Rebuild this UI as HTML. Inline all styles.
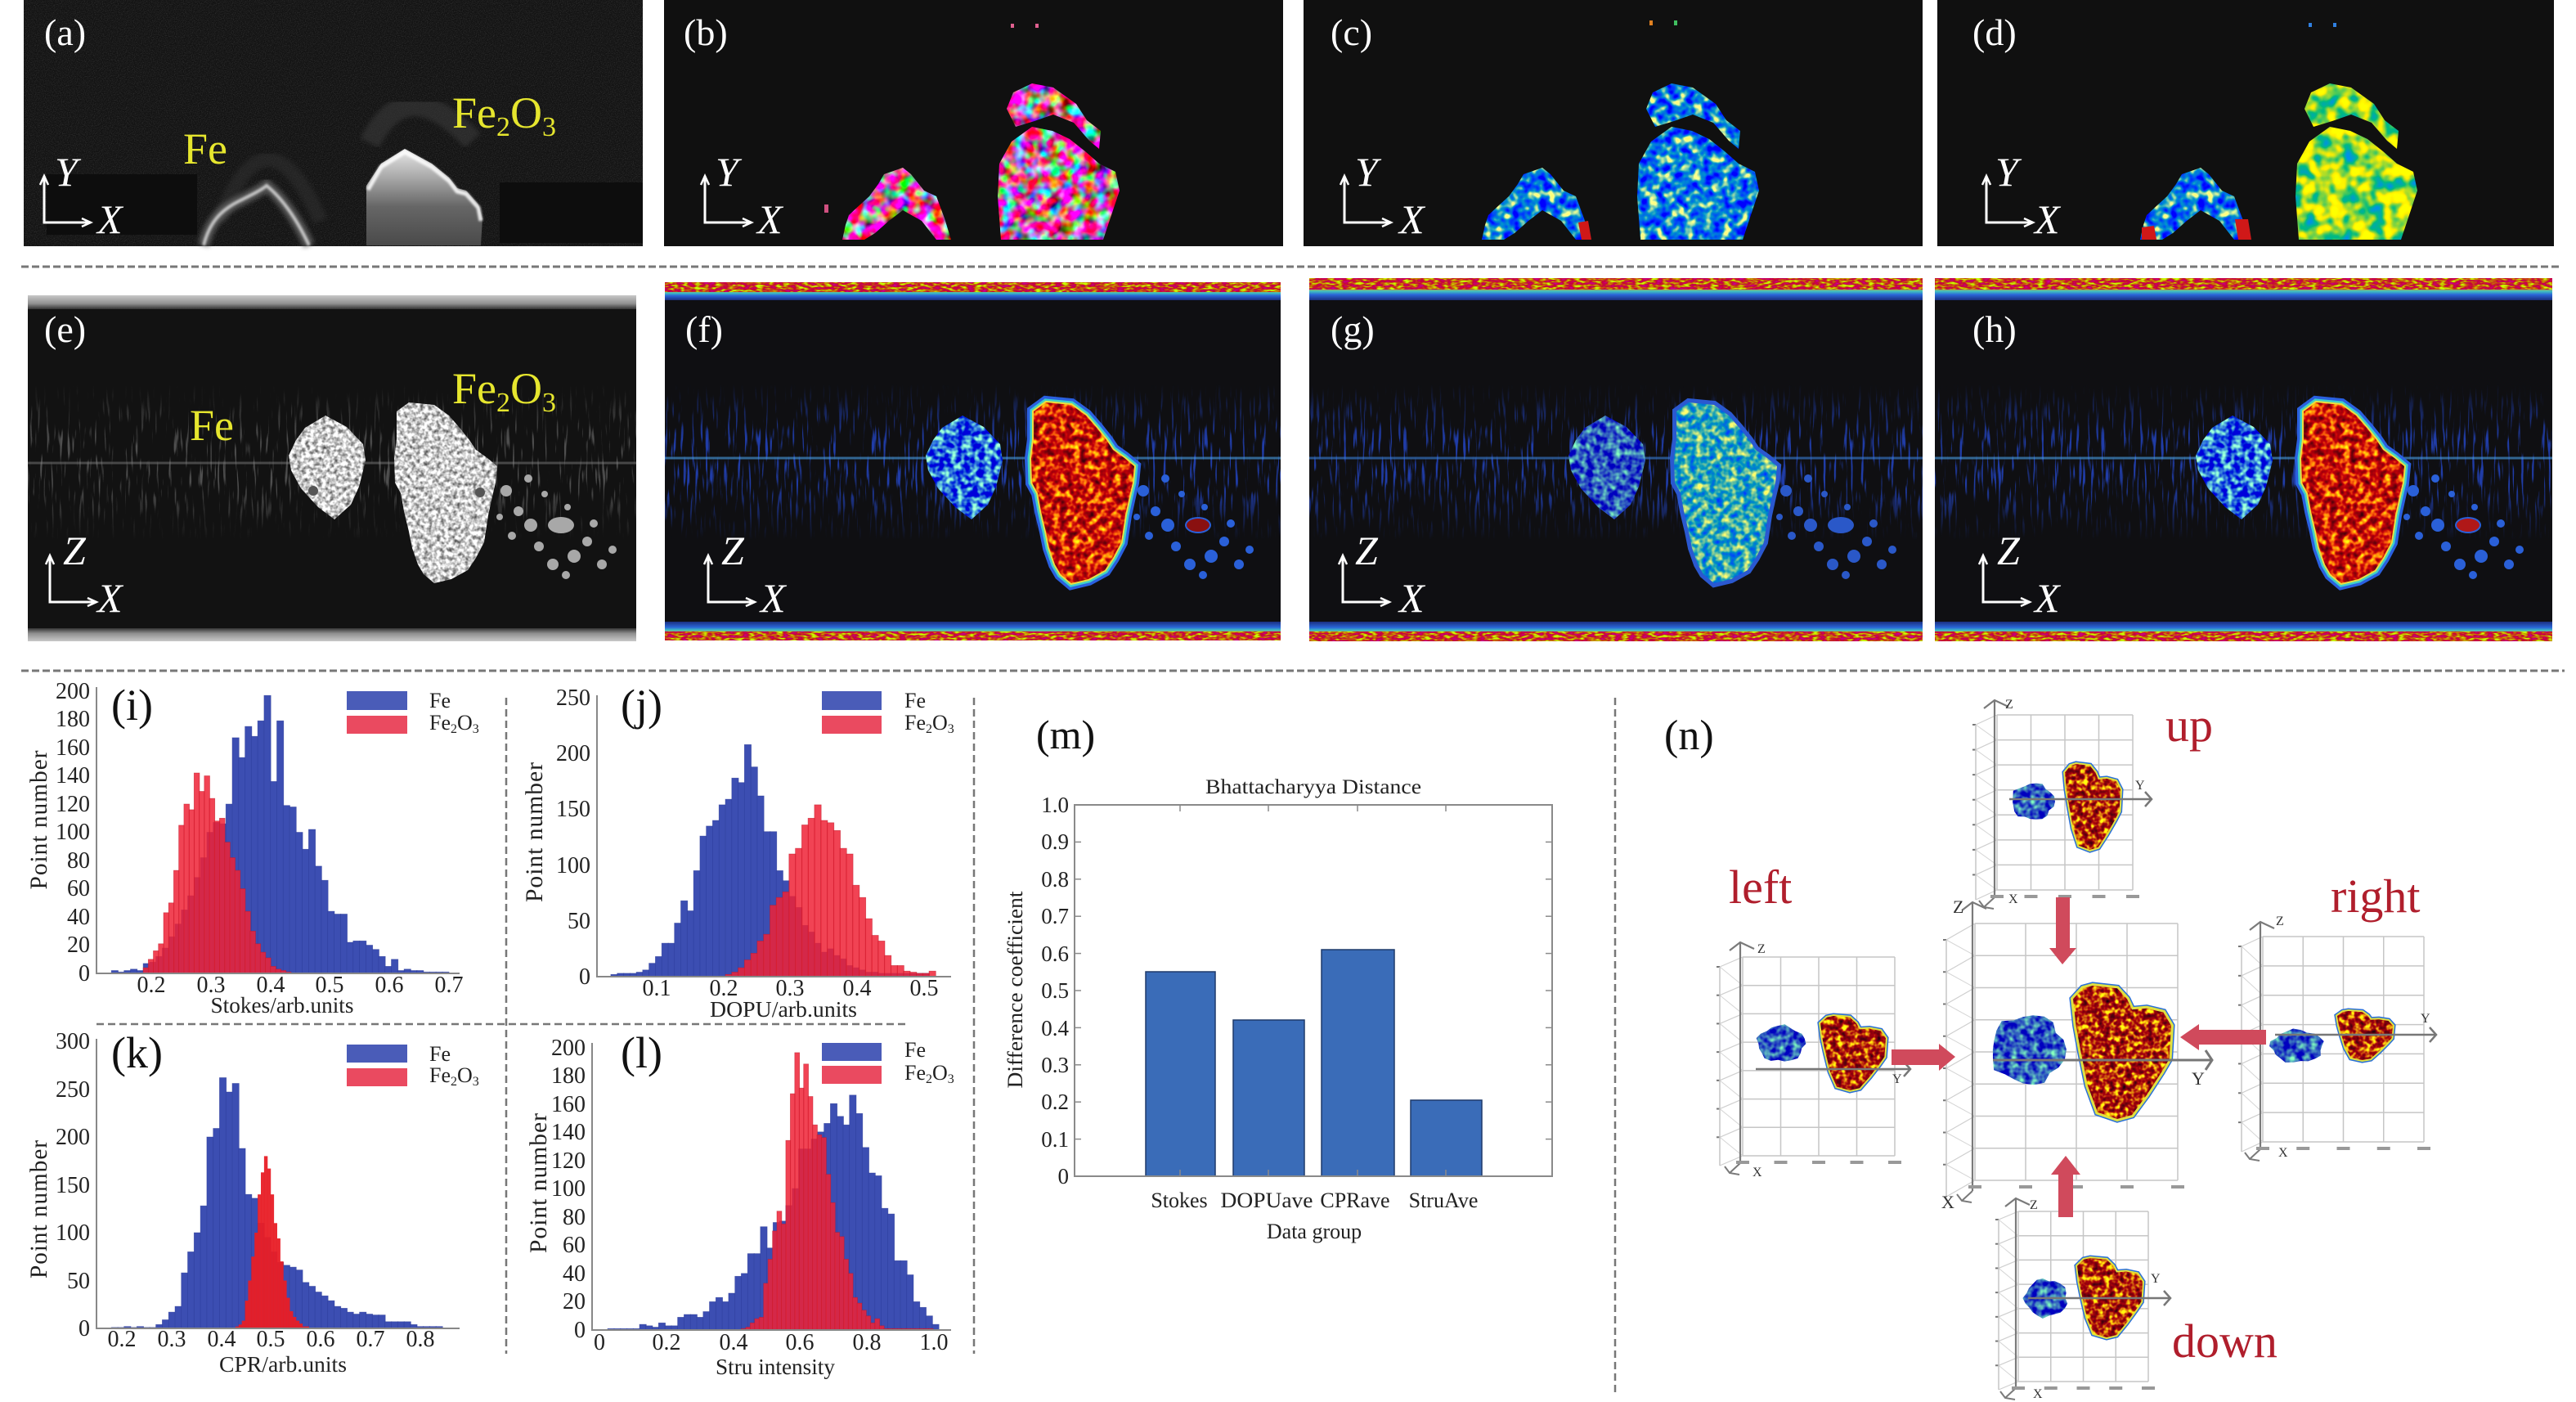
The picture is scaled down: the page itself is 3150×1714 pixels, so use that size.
<!DOCTYPE html>
<html><head><meta charset="utf-8"><style>
html,body{margin:0;padding:0;background:#fff;}
svg{display:block;}
text{font-family:"Liberation Serif","Times New Roman",serif;}
</style></head><body>
<svg id="s" xmlns="http://www.w3.org/2000/svg" xmlns:xlink="http://www.w3.org/1999/xlink" width="3150" height="1714" viewBox="0 0 3150 1714">
<defs>
<filter id="grain" x="0" y="0" width="1" height="1" color-interpolation-filters="sRGB"><feTurbulence type="fractalNoise" baseFrequency="0.9" numOctaves="1" seed="1"/><feColorMatrix type="matrix" values="0 0 0 0 1 0 0 0 0 1 0 0 0 0 1 0.6 0 0 0 -0.25"/></filter>
<filter id="blur3" color-interpolation-filters="sRGB"><feGaussianBlur stdDeviation="3"/></filter>
<filter id="blur1" color-interpolation-filters="sRGB"><feGaussianBlur stdDeviation="1.2"/></filter>
<filter id="mPink" x="-5%" y="-5%" width="110%" height="110%" color-interpolation-filters="sRGB"><feTurbulence type="fractalNoise" baseFrequency="0.07" numOctaves="2" seed="2" result="n"/><feColorMatrix in="n" type="matrix" values="3 0 0 0 -0.72  -2.6 2.6 0 0 0.38  0 0 2.5 0 -0.65  0 0 0 0 1" result="c"/><feComposite in="c" in2="SourceGraphic" operator="in"/></filter>
<filter id="mCyan" x="-5%" y="-5%" width="110%" height="110%" color-interpolation-filters="sRGB"><feTurbulence type="fractalNoise" baseFrequency="0.09" numOctaves="2" seed="4" result="n"/><feColorMatrix in="n" type="matrix" values="0 5 0 0 -2.7  0 2.2 0 0 -0.6  0 -1.2 0 0 1.45  0 0 0 0 1" result="c"/><feComposite in="c" in2="SourceGraphic" operator="in"/></filter>
<filter id="mYG" x="-5%" y="-5%" width="110%" height="110%" color-interpolation-filters="sRGB"><feTurbulence type="fractalNoise" baseFrequency="0.06" numOctaves="2" seed="6" result="n"/><feColorMatrix in="n" type="matrix" values="0 4 0 0 -1.4  0 0.8 0 0 0.45  0 -2 0 0 1.2  0 0 0 0 1" result="c"/><feComposite in="c" in2="SourceGraphic" operator="in"/></filter>
<filter id="mRed" x="-5%" y="-5%" width="110%" height="110%" color-interpolation-filters="sRGB"><feTurbulence type="fractalNoise" baseFrequency="0.12" numOctaves="2" seed="8" result="n"/><feColorMatrix in="n" type="matrix" values="0 1.6 0 0 0.0  0 3 0 0 -1.45  0 0 0 0 0.04  0 0 0 0 1" result="c"/><feComposite in="c" in2="SourceGraphic" operator="in"/></filter>
<filter id="mRed3" x="-5%" y="-5%" width="110%" height="110%" color-interpolation-filters="sRGB"><feTurbulence type="fractalNoise" baseFrequency="0.15" numOctaves="2" seed="9" result="n"/><feColorMatrix in="n" type="matrix" values="0 1.5 0 0 -0.05  0 3.5 0 0 -1.65  0 0 0 0 0.05  0 0 0 0 1" result="c"/><feComposite in="c" in2="SourceGraphic" operator="in"/></filter>
<filter id="mBlueF" x="-5%" y="-5%" width="110%" height="110%" color-interpolation-filters="sRGB"><feTurbulence type="fractalNoise" baseFrequency="0.12" numOctaves="2" seed="3" result="n"/><feColorMatrix in="n" type="matrix" values="0 2 0 0 -0.85  0 3 0 0 -1.1  0 0 0 0 0.86  0 0 0 0 1" result="c"/><feComposite in="c" in2="SourceGraphic" operator="in"/></filter>
<filter id="mBlueD" x="-5%" y="-5%" width="110%" height="110%" color-interpolation-filters="sRGB"><feTurbulence type="fractalNoise" baseFrequency="0.12" numOctaves="2" seed="5" result="n"/><feColorMatrix in="n" type="matrix" values="0 1 0 0 -0.32  0 2 0 0 -0.65  0 0 0 0 0.75  0 0 0 0 1" result="c"/><feComposite in="c" in2="SourceGraphic" operator="in"/></filter>
<filter id="mCyanG" x="-5%" y="-5%" width="110%" height="110%" color-interpolation-filters="sRGB"><feTurbulence type="fractalNoise" baseFrequency="0.12" numOctaves="2" seed="11" result="n"/><feColorMatrix in="n" type="matrix" values="0 3 0 0 -1.35  0 1.2 0 0 0.05  0 -0.9 0 0 1.15  0 0 0 0 1" result="c"/><feComposite in="c" in2="SourceGraphic" operator="in"/></filter>
<filter id="mGray" x="-5%" y="-5%" width="110%" height="110%" color-interpolation-filters="sRGB"><feTurbulence type="fractalNoise" baseFrequency="0.2" numOctaves="2" seed="12" result="n"/><feColorMatrix in="n" type="matrix" values="0 1.4 0 0 0.1  0 1.4 0 0 0.1  0 1.4 0 0 0.1  0 0 0 0 1" result="c"/><feComposite in="c" in2="SourceGraphic" operator="in"/></filter>
<filter id="mBand" x="0" y="0" width="1" height="1" color-interpolation-filters="sRGB"><feTurbulence type="fractalNoise" baseFrequency="0.12 0.35" numOctaves="2" seed="13" result="n"/><feColorMatrix in="n" type="matrix" values="0 0 0 0 0.78  0 3.2 0 0 -1.35  0 -1.5 0 0 0.85  0 0 0 0 1" result="c"/><feComposite in="c" in2="SourceGraphic" operator="in"/></filter>
<filter id="streakB" x="0" y="0" width="1" height="1" color-interpolation-filters="sRGB"><feTurbulence type="fractalNoise" baseFrequency="0.3 0.025" numOctaves="2" seed="7"/><feColorMatrix type="matrix" values="0 0 0 0 0.15 0 0 0 0 0.3 0 0 0 0 0.85 8 0 0 0 -4.6"/></filter>
<filter id="streakG" x="0" y="0" width="1" height="1" color-interpolation-filters="sRGB"><feTurbulence type="fractalNoise" baseFrequency="0.3 0.025" numOctaves="2" seed="7"/><feColorMatrix type="matrix" values="0 0 0 0 0.6 0 0 0 0 0.6 0 0 0 0 0.6 8 0 0 0 -4.8"/></filter>
<linearGradient id="fadeG" x1="0" y1="0" x2="0" y2="1"><stop offset="0" stop-color="#000"/><stop offset="0.35" stop-color="#fff"/><stop offset="0.65" stop-color="#fff"/><stop offset="1" stop-color="#000"/></linearGradient>
<mask id="fade" maskContentUnits="objectBoundingBox"><rect width="1" height="1" fill="url(#fadeG)"/></mask>
<linearGradient id="domeG" x1="0" y1="182" x2="0" y2="300" gradientUnits="userSpaceOnUse"><stop offset="0" stop-color="#e8e8e8"/><stop offset="0.3" stop-color="#a8a8a8"/><stop offset="0.6" stop-color="#666"/><stop offset="1" stop-color="#4a4a4a"/></linearGradient>
<linearGradient id="bandT" x1="0" y1="0" x2="0" y2="1"><stop offset="0" stop-color="#b02818"/><stop offset="0.45" stop-color="#d89a20"/><stop offset="0.6" stop-color="#40c0c0"/><stop offset="0.75" stop-color="#2a66d8"/><stop offset="1" stop-color="#1a2f80"/></linearGradient>
<linearGradient id="bandB" x1="0" y1="1" x2="0" y2="0"><stop offset="0" stop-color="#b02818"/><stop offset="0.4" stop-color="#d89a20"/><stop offset="0.55" stop-color="#40c0c0"/><stop offset="0.7" stop-color="#2a66d8"/><stop offset="1" stop-color="#1a2f80"/></linearGradient>
<linearGradient id="bandGT" x1="0" y1="0" x2="0" y2="1"><stop offset="0" stop-color="#c8c8c8"/><stop offset="0.6" stop-color="#909090"/><stop offset="1" stop-color="#333"/></linearGradient>
<linearGradient id="bandGB" x1="0" y1="1" x2="0" y2="0"><stop offset="0" stop-color="#c8c8c8"/><stop offset="0.6" stop-color="#909090"/><stop offset="1" stop-color="#333"/></linearGradient>

<path id="arch" d="M218 293 L222 275 L226 263 L240 250 L251 240 L262 225 L269 213 L292 205 L302 213 L318 233 L333 240 L343 267 L351 293 L333 293 L315 270 L292 257 L275 270 L258 285 L245 293 Z"/>
<path id="main" d="M412 293 L408 240 L410 200 L425 173 L450 155 L475 160 L496 170 L515 185 L532 200 L552 210 L557 233 L547 263 L537 293 Z"/>
<path id="cap" d="M419 133 L427 113 L450 102 L476 107 L504 127 L517 147 L534 160 L532 182 L520 172 L501 150 L476 140 L453 148 L430 155 Z"/>
<path id="feb" d="M364 508 L390 522 L410 543 L413 563 L405 595 L395 617 L375 635 L355 620 L334 597 L322 575 L319 557 L328 538 L339 523 Z"/>
<path id="fe2b" d="M451 503 L466 492 L497 495 L515 508 L528 523 L540 538 L548 550 L562 560 L574 570 L572 590 L568 607 L563 630 L558 663 L548 682 L538 697 L518 708 L497 713 L484 702 L477 690 L470 670 L466 650 L460 625 L456 603 L449 590 L448 560 L451 537 Z"/>
<g id="parts"><circle cx="585" cy="600" r="7"/><circle cx="600" cy="625" r="6"/><circle cx="615" cy="642" r="8"/><circle cx="592" cy="655" r="5"/><circle cx="625" cy="668" r="6"/><circle cx="642" cy="690" r="7"/><circle cx="658" cy="703" r="5"/><circle cx="668" cy="680" r="8"/><circle cx="684" cy="662" r="6"/><circle cx="702" cy="690" r="6"/><circle cx="612" cy="585" r="5"/><circle cx="632" cy="604" r="4"/><circle cx="692" cy="640" r="5"/><circle cx="577" cy="632" r="4"/><circle cx="715" cy="672" r="5"/><circle cx="660" cy="620" r="4"/><ellipse cx="652" cy="642" rx="16" ry="10"/></g>
<g id="axL"><path d="M0 0 V57 H57" stroke="#fff" stroke-width="3" fill="none"/><path d="M-5 11 L0 0 L5 11" stroke="#fff" stroke-width="2.5" fill="none"/><path d="M46 52 L57 57 L46 62" stroke="#fff" stroke-width="2.5" fill="none"/></g>
</defs>

<rect width="3150" height="1714" fill="#fff"/>

<!-- (a) -->
<rect x="29" y="0" width="757" height="301" fill="#131313"/>
<rect x="29" y="0" width="757" height="301" filter="url(#grain)" opacity="0.5"/>
<rect x="57" y="213" width="184" height="74" fill="#0d0d0d"/>
<rect x="611" y="223" width="175" height="74" fill="#0d0d0d"/>
<path d="M268 270 Q326 120 392 270" stroke="#333" stroke-width="18" fill="none" filter="url(#blur3)" opacity="0.5"/>
<path d="M452 175 Q497 85 578 172" stroke="#3a3a3a" stroke-width="26" fill="none" filter="url(#blur3)" opacity="0.6"/>
<path d="M249 300 C256 272 270 257 292 246 C308 238 320 232 326 227 C342 240 360 262 378 300" stroke="#666" stroke-width="14" fill="none" filter="url(#blur3)" opacity="0.8"/>
<path d="M249 300 C256 272 270 257 292 246 C308 238 320 232 326 227 C342 240 360 262 378 300" stroke="#d8d8d8" stroke-width="4" fill="none" filter="url(#blur1)" opacity="0.85"/>
<path d="M448 300 L448 227 L466 200 L495 182 L528 200 L549 217 L559 230 L570 233 L585 250 L590 267 L588 300 Z" fill="url(#domeG)"/>
<path d="M450 232 L466 204 L495 186 L528 204 L549 221 L559 234 L570 237 L585 254 L588 270" stroke="#fff" stroke-width="5" fill="none" filter="url(#blur1)" opacity="0.85"/>
<text x="54" y="55" font-size="46" fill="#fff">(a)</text>
<text x="224" y="200" font-size="54" fill="#e6e62e">Fe</text>
<text x="553" y="156" font-size="54" fill="#e6e62e">Fe<tspan font-size="34" dy="10">2</tspan><tspan dy="-10">O</tspan><tspan font-size="34" dy="10">3</tspan></text>
<use href="#axL" xlink:href="#axL" transform="translate(54,215)"/>
<text x="67" y="227" font-size="50" font-style="italic" fill="#fff">Y</text>
<text x="119" y="285" font-size="50" font-style="italic" fill="#fff">X</text>

<!-- (b) -->
<rect x="812" y="0" width="757" height="301" fill="#101010"/>
<g transform="translate(812,0)">
<use href="#arch" xlink:href="#arch" fill="#fff" filter="url(#mPink)"/>
<use href="#main" xlink:href="#main" fill="#fff" filter="url(#mPink)"/>
<use href="#cap" xlink:href="#cap" fill="#fff" filter="url(#mPink)"/>
<rect x="196" y="250" width="5" height="10" fill="#d05080"/>
<rect x="424" y="29" width="4" height="5" fill="#e06090"/><rect x="454" y="29" width="4" height="5" fill="#e06090"/>
</g>
<text x="836" y="55" font-size="46" fill="#fff">(b)</text>
<use href="#axL" xlink:href="#axL" transform="translate(862,215)"/>
<text x="875" y="227" font-size="50" font-style="italic" fill="#fff">Y</text>
<text x="926" y="285" font-size="50" font-style="italic" fill="#fff">X</text>

<!-- (c) -->
<rect x="1594" y="0" width="757" height="301" fill="#101010"/>
<g transform="translate(1594,0)">
<use href="#arch" xlink:href="#arch" fill="#fff" filter="url(#mCyan)"/>
<use href="#main" xlink:href="#main" fill="#fff" filter="url(#mCyan)"/>
<use href="#cap" xlink:href="#cap" fill="#fff" filter="url(#mCyan)"/>
<path d="M336 272 L348 270 L352 293 L340 293 Z" fill="#d01818"/>
<rect x="423" y="25" width="4" height="6" fill="#e08020"/><rect x="453" y="25" width="4" height="6" fill="#40c060"/>
</g>
<text x="1627" y="55" font-size="46" fill="#fff">(c)</text>
<use href="#axL" xlink:href="#axL" transform="translate(1644,215)"/>
<text x="1657" y="227" font-size="50" font-style="italic" fill="#fff">Y</text>
<text x="1711" y="285" font-size="50" font-style="italic" fill="#fff">X</text>

<!-- (d) -->
<rect x="2369" y="0" width="754" height="301" fill="#101010"/>
<g transform="translate(2399,0)">
<use href="#arch" xlink:href="#arch" fill="#fff" filter="url(#mCyan)"/>
<use href="#main" xlink:href="#main" fill="#fff" filter="url(#mYG)"/>
<use href="#cap" xlink:href="#cap" fill="#fff" filter="url(#mYG)"/>
<path d="M220 278 L235 276 L238 293 L220 293 Z" fill="#d01818"/>
<path d="M334 268 L350 268 L354 293 L338 293 Z" fill="#d01818"/>
<rect x="424" y="28" width="4" height="5" fill="#3080e0"/><rect x="454" y="28" width="4" height="5" fill="#3080e0"/>
</g>
<text x="2412" y="55" font-size="46" fill="#fff">(d)</text>
<use href="#axL" xlink:href="#axL" transform="translate(2429,215)"/>
<text x="2440" y="227" font-size="50" font-style="italic" fill="#fff">Y</text>
<text x="2488" y="285" font-size="50" font-style="italic" fill="#fff">X</text>

<line x1="26" y1="326" x2="3130" y2="326" stroke="#777" stroke-width="3" stroke-dasharray="9 4"/>
<line x1="26" y1="820" x2="3136" y2="820" stroke="#777" stroke-width="3" stroke-dasharray="9 4"/>

<!-- (e) -->
<rect x="34" y="361" width="744" height="423" fill="#121212"/>
<rect x="34" y="361" width="744" height="17" fill="url(#bandGT)"/>
<rect x="34" y="768" width="744" height="16" fill="url(#bandGB)"/>
<rect x="34" y="470" width="744" height="190" filter="url(#streakG)" mask="url(#fade)" opacity="0.45"/>
<line x1="34" y1="566" x2="778" y2="566" stroke="#888" stroke-width="3" opacity="0.45"/>
<g transform="translate(34,0)">
<use href="#feb" xlink:href="#feb" fill="#fff" filter="url(#mGray)"/>
<use href="#fe2b" xlink:href="#fe2b" fill="#fff" filter="url(#mGray)"/>
<use href="#parts" xlink:href="#parts" fill="#a8a8a8"/>
<circle cx="349" cy="600" r="6" fill="#555"/><circle cx="553" cy="602" r="6" fill="#555"/>
</g>
<text x="54" y="418" font-size="46" fill="#fff">(e)</text>
<text x="232" y="538" font-size="54" fill="#e6e62e">Fe</text>
<text x="553" y="493" font-size="54" fill="#e6e62e">Fe<tspan font-size="34" dy="10">2</tspan><tspan dy="-10">O</tspan><tspan font-size="34" dy="10">3</tspan></text>
<use href="#axL" xlink:href="#axL" transform="translate(61,679)"/>
<text x="77" y="690" font-size="50" font-style="italic" fill="#fff">Z</text>
<text x="119" y="748" font-size="50" font-style="italic" fill="#fff">X</text>

<!-- (f) -->
<rect x="813" y="345" width="753" height="438" fill="#0f0f12"/>
<rect x="813" y="345" width="753" height="22" fill="url(#bandT)"/>
<rect x="813" y="345" width="753" height="12" fill="#fff" filter="url(#mBand)"/>
<rect x="813" y="760" width="753" height="23" fill="url(#bandB)"/>
<rect x="813" y="772" width="753" height="11" fill="#fff" filter="url(#mBand)"/>
<rect x="813" y="470" width="753" height="190" filter="url(#streakB)" mask="url(#fade)" opacity="0.75"/>
<line x1="813" y1="560" x2="1566" y2="560" stroke="#4aa0e8" stroke-width="3" opacity="0.6"/>
<g transform="translate(813,0)">
<use href="#parts" xlink:href="#parts" fill="#2a60d8"/>
<use href="#feb" xlink:href="#feb" fill="#fff" filter="url(#mBlueF)"/>
<use href="#fe2b" xlink:href="#fe2b" fill="none" stroke="#2a60e0" stroke-width="16"/>
<use href="#fe2b" xlink:href="#fe2b" fill="none" stroke="#40d0c8" stroke-width="9"/>
<use href="#fe2b" xlink:href="#fe2b" fill="none" stroke="#e8e040" stroke-width="4"/>
<use href="#fe2b" xlink:href="#fe2b" fill="#fff" filter="url(#mRed)"/>
<ellipse cx="652" cy="642" rx="14" ry="8" fill="#8a1010"/>
</g>
<text x="838" y="418" font-size="46" fill="#fff">(f)</text>
<use href="#axL" xlink:href="#axL" transform="translate(866,679)"/>
<text x="882" y="690" font-size="50" font-style="italic" fill="#fff">Z</text>
<text x="930" y="748" font-size="50" font-style="italic" fill="#fff">X</text>

<!-- (g) -->
<rect x="1601" y="340" width="750" height="444" fill="#0f0f12"/>
<rect x="1601" y="340" width="750" height="27" fill="url(#bandT)"/>
<rect x="1601" y="340" width="750" height="14" fill="#fff" filter="url(#mBand)"/>
<rect x="1601" y="760" width="750" height="24" fill="url(#bandB)"/>
<rect x="1601" y="772" width="750" height="12" fill="#fff" filter="url(#mBand)"/>
<rect x="1601" y="470" width="750" height="190" filter="url(#streakB)" mask="url(#fade)" opacity="0.75"/>
<line x1="1601" y1="560" x2="2351" y2="560" stroke="#3a80d8" stroke-width="3" opacity="0.6"/>
<g transform="translate(1599,0)">
<use href="#parts" xlink:href="#parts" fill="#2a58c8"/>
<use href="#feb" xlink:href="#feb" fill="#fff" filter="url(#mBlueD)"/>
<use href="#fe2b" xlink:href="#fe2b" fill="none" stroke="#2a58d0" stroke-width="10"/>
<use href="#fe2b" xlink:href="#fe2b" fill="#fff" filter="url(#mCyanG)"/>
</g>
<text x="1627" y="418" font-size="46" fill="#fff">(g)</text>
<use href="#axL" xlink:href="#axL" transform="translate(1642,679)"/>
<text x="1657" y="690" font-size="50" font-style="italic" fill="#fff">Z</text>
<text x="1711" y="748" font-size="50" font-style="italic" fill="#fff">X</text>

<!-- (h) -->
<rect x="2366" y="340" width="755" height="444" fill="#0f0f12"/>
<rect x="2366" y="340" width="755" height="27" fill="url(#bandT)"/>
<rect x="2366" y="340" width="755" height="14" fill="#fff" filter="url(#mBand)"/>
<rect x="2366" y="760" width="755" height="24" fill="url(#bandB)"/>
<rect x="2366" y="772" width="755" height="12" fill="#fff" filter="url(#mBand)"/>
<rect x="2366" y="470" width="755" height="190" filter="url(#streakB)" mask="url(#fade)" opacity="0.75"/>
<line x1="2366" y1="560" x2="3121" y2="560" stroke="#4aa0e8" stroke-width="3" opacity="0.6"/>
<g transform="translate(2366,0)">
<use href="#parts" xlink:href="#parts" fill="#2a60d8"/>
<use href="#feb" xlink:href="#feb" fill="#fff" filter="url(#mBlueF)"/>
<use href="#fe2b" xlink:href="#fe2b" fill="none" stroke="#2a60e0" stroke-width="16"/>
<use href="#fe2b" xlink:href="#fe2b" fill="none" stroke="#40d0c8" stroke-width="9"/>
<use href="#fe2b" xlink:href="#fe2b" fill="none" stroke="#e8e040" stroke-width="4"/>
<use href="#fe2b" xlink:href="#fe2b" fill="#fff" filter="url(#mRed)"/>
<ellipse cx="652" cy="642" rx="14" ry="8" fill="#b01818"/>
</g>
<text x="2412" y="418" font-size="46" fill="#fff">(h)</text>
<use href="#axL" xlink:href="#axL" transform="translate(2425,679)"/>
<text x="2442" y="690" font-size="50" font-style="italic" fill="#fff">Z</text>
<text x="2488" y="748" font-size="50" font-style="italic" fill="#fff">X</text>

<line x1="619" y1="853" x2="619" y2="1655" stroke="#777" stroke-width="2.5" stroke-dasharray="9 5"/>
<line x1="1191" y1="853" x2="1191" y2="1655" stroke="#777" stroke-width="2.5" stroke-dasharray="9 5"/>
<line x1="1975" y1="853" x2="1975" y2="1705" stroke="#777" stroke-width="2.5" stroke-dasharray="9 5"/>
<line x1="118" y1="1252" x2="1109" y2="1252" stroke="#777" stroke-width="2.5" stroke-dasharray="9 5"/>

<g id="hist"></g>

<g stroke="#888" stroke-width="2" fill="none">
<path d="M118 840 V1190 H562"/>
<path d="M730 850 V1194 H1163"/>
<path d="M118 1270 V1624 H562"/>
<path d="M724 1275 V1626 H1163"/>
</g>
<g font-size="28" fill="#222" text-anchor="end">
<text x="110" y="1199">0</text><text x="110" y="1164">20</text><text x="110" y="1130">40</text><text x="110" y="1095">60</text><text x="110" y="1061">80</text><text x="110" y="1026">100</text><text x="110" y="992">120</text><text x="110" y="957">140</text><text x="110" y="923">160</text><text x="110" y="888">180</text><text x="110" y="854">200</text>
<text x="722" y="1203">0</text><text x="722" y="1135">50</text><text x="722" y="1067">100</text><text x="722" y="998">150</text><text x="722" y="930">200</text><text x="722" y="862">250</text>
<text x="110" y="1633">0</text><text x="110" y="1575">50</text><text x="110" y="1516">100</text><text x="110" y="1458">150</text><text x="110" y="1399">200</text><text x="110" y="1341">250</text><text x="110" y="1282">300</text>
<text x="716" y="1635">0</text><text x="716" y="1600">20</text><text x="716" y="1566">40</text><text x="716" y="1531">60</text><text x="716" y="1497">80</text><text x="716" y="1462">100</text><text x="716" y="1428">120</text><text x="716" y="1393">140</text><text x="716" y="1359">160</text><text x="716" y="1324">180</text><text x="716" y="1290">200</text>
</g>
<g font-size="28" fill="#222" text-anchor="middle">
<text x="185" y="1213">0.2</text><text x="258" y="1213">0.3</text><text x="331" y="1213">0.4</text><text x="403" y="1213">0.5</text><text x="476" y="1213">0.6</text><text x="549" y="1213">0.7</text>
<text x="803" y="1217">0.1</text><text x="885" y="1217">0.2</text><text x="966" y="1217">0.3</text><text x="1048" y="1217">0.4</text><text x="1130" y="1217">0.5</text>
<text x="149" y="1646">0.2</text><text x="210" y="1646">0.3</text><text x="271" y="1646">0.4</text><text x="331" y="1646">0.5</text><text x="392" y="1646">0.6</text><text x="453" y="1646">0.7</text><text x="514" y="1646">0.8</text>
<text x="733" y="1650">0</text><text x="815" y="1650">0.2</text><text x="897" y="1650">0.4</text><text x="978" y="1650">0.6</text><text x="1060" y="1650">0.8</text><text x="1142" y="1650">1.0</text>
</g>
<g font-size="27" fill="#222" text-anchor="middle">
<text x="345" y="1238" textLength="175" lengthAdjust="spacingAndGlyphs">Stokes/arb.units</text>
<text x="958" y="1243" textLength="180" lengthAdjust="spacingAndGlyphs">DOPU/arb.units</text>
<text x="346" y="1677" textLength="156" lengthAdjust="spacingAndGlyphs">CPR/arb.units</text>
<text x="948" y="1680" textLength="146" lengthAdjust="spacingAndGlyphs">Stru intensity</text>
</g>
<g font-size="30" fill="#222" text-anchor="middle" letter-spacing="1">
<text transform="translate(57,1002) rotate(-90)" textLength="171" lengthAdjust="spacingAndGlyphs">Point number</text>
<text transform="translate(663,1017) rotate(-90)" textLength="172" lengthAdjust="spacingAndGlyphs">Point number</text>
<text transform="translate(57,1478) rotate(-90)" textLength="170" lengthAdjust="spacingAndGlyphs">Point number</text>
<text transform="translate(668,1446) rotate(-90)" textLength="172" lengthAdjust="spacingAndGlyphs">Point number</text>
</g>
<g font-size="54" fill="#111">
<text x="136" y="880">(i)</text>
<text x="759" y="880">(j)</text>
<text x="136" y="1305">(k)</text>
<text x="759" y="1305">(l)</text>
</g>
<g>
<rect x="424" y="845" width="74" height="23" fill="#4a5cb8"/><rect x="424" y="875" width="74" height="22" fill="#ea4a60"/>
<rect x="1005" y="845" width="73" height="23" fill="#4a5cb8"/><rect x="1005" y="875" width="73" height="22" fill="#ea4a60"/>
<rect x="424" y="1277" width="74" height="22" fill="#4a5cb8"/><rect x="424" y="1306" width="74" height="22" fill="#ea4a60"/>
<rect x="1005" y="1275" width="73" height="22" fill="#4a5cb8"/><rect x="1005" y="1303" width="73" height="22" fill="#ea4a60"/>
</g>
<g font-size="26" fill="#222">
<text x="525" y="865">Fe</text><text x="525" y="892">Fe<tspan font-size="16" dy="4">2</tspan><tspan dy="-4">O</tspan><tspan font-size="16" dy="4">3</tspan></text>
<text x="1106" y="865">Fe</text><text x="1106" y="892">Fe<tspan font-size="16" dy="4">2</tspan><tspan dy="-4">O</tspan><tspan font-size="16" dy="4">3</tspan></text>
<text x="525" y="1297">Fe</text><text x="525" y="1323">Fe<tspan font-size="16" dy="4">2</tspan><tspan dy="-4">O</tspan><tspan font-size="16" dy="4">3</tspan></text>
<text x="1106" y="1292">Fe</text><text x="1106" y="1320">Fe<tspan font-size="16" dy="4">2</tspan><tspan dy="-4">O</tspan><tspan font-size="16" dy="4">3</tspan></text>
</g>

<!-- (m) -->
<text x="1267" y="915" font-size="50" fill="#111">(m)</text>
<text x="1606" y="970" font-size="25" fill="#222" text-anchor="middle" textLength="264" lengthAdjust="spacingAndGlyphs">Bhattacharyya Distance</text>
<g fill="#3a6cb8" stroke="#1e3a6a" stroke-width="1.5">
<rect x="1401" y="1188" width="85" height="250"/>
<rect x="1508" y="1247" width="87" height="191"/>
<rect x="1616" y="1161" width="89" height="277"/>
<rect x="1725" y="1345" width="87" height="93"/>
</g>
<rect x="1314" y="984" width="584" height="454" fill="none" stroke="#8a8a8a" stroke-width="2"/>
<g stroke="#8a8a8a" stroke-width="1.5" id="mticks"></g>
<g font-size="27" fill="#222" text-anchor="end">
<text x="1307" y="1447">0</text><text x="1307" y="1402">0.1</text><text x="1307" y="1356">0.2</text><text x="1307" y="1311">0.3</text><text x="1307" y="1266">0.4</text><text x="1307" y="1220">0.5</text><text x="1307" y="1175">0.6</text><text x="1307" y="1129">0.7</text><text x="1307" y="1084">0.8</text><text x="1307" y="1038">0.9</text><text x="1307" y="993">1.0</text>
</g>
<g font-size="26" fill="#222" text-anchor="middle">
<text x="1442" y="1476">Stokes</text>
<text x="1549" y="1476" textLength="113" lengthAdjust="spacingAndGlyphs">DOPUave</text>
<text x="1657" y="1476">CPRave</text>
<text x="1765" y="1476">StruAve</text>
<text x="1607" y="1514">Data group</text>
<text transform="translate(1250,1210) rotate(-90)" textLength="241" lengthAdjust="spacingAndGlyphs">Difference coefficient</text>
</g>

<!-- (n) -->
<text x="2035" y="916" font-size="52" fill="#111">(n)</text>
<g id="n3d"></g>
<g fill="#b01e2c" font-size="58">
<text x="2648" y="906">up</text>
<text x="2114" y="1104">left</text>
<text x="2850" y="1115">right</text>
<text x="2656" y="1659">down</text>
</g>
<g fill="#333" font-size="22">
<text x="2388" y="1116">Z</text><text x="2680" y="1326">Y</text><text x="2374" y="1477">X</text>
</g>
<g fill="#333" font-size="16">
<text x="2452" y="866">Z</text><text x="2611" y="965">Y</text><text x="2456" y="1104">X</text>
<text x="2149" y="1165">Z</text><text x="2314" y="1324">Y</text><text x="2143" y="1438">X</text>
<text x="2783" y="1131">Z</text><text x="2960" y="1250">Y</text><text x="2786" y="1414">X</text>
<text x="2482" y="1478">Z</text><text x="2630" y="1568">Y</text><text x="2486" y="1709">X</text>
</g>
<g fill="#d04a5c" id="arrows">
<rect x="2514" y="1097" width="17" height="64"/><polygon points="2506,1159 2539,1159 2522,1179"/>
<rect x="2313" y="1283" width="60" height="19"/><polygon points="2371,1276 2371,1309 2391,1292"/>
<rect x="2687" y="1259" width="84" height="18"/><polygon points="2689,1252 2689,1284 2666,1268"/>
<rect x="2517" y="1434" width="18" height="54"/><polygon points="2508,1436 2544,1436 2526,1413"/>
</g>
</svg>
<script>
(function(){
const NS='http://www.w3.org/2000/svg';
function el(tag,a,p){const e=document.createElementNS(NS,tag);for(const k in a)e.setAttribute(k,a[k]);p.appendChild(e);return e;}
const H=document.getElementById('hist');
const fx=1220/1568;
function bars(start,w,counts,axisY,ppu,fill,op,stroke){
  counts.forEach((c,i)=>{if(c<=0)return;const x=(start+i*w)*fx;
   el('rect',{x:x.toFixed(1),y:(axisY-c*ppu).toFixed(1),width:(w*fx+0.5).toFixed(1),height:(c*ppu).toFixed(1),fill:fill,'fill-opacity':op,stroke:stroke,'stroke-width':0.7,'stroke-opacity':0.6},H);});
}
const B='#3c4eb2',R='#ee2236';
bars(175,10,[2,1,2,3,2,7,8,12,18,26,35,45,55,68,82,100,107,106,120,167,153,175,168,179,197,136,179,119,118,100,88,102,76,66,44,42,42,22,23,23,20,17,12,5,10,2,3,2,2,1,1,1,1],1190,1.725,B,1,'#2a3a96');
bars(225,8,[4,10,16,21,43,50,73,105,120,116,142,129,140,124,108,110,93,82,73,60,44,30,21,15,11,5,3,2,1],1190,1.725,R,0.85,'#c01828');
bars(960,10,[2,3,3,3,4,6,12,18,30,30,48,68,59,95,126,135,140,154,159,178,174,208,188,162,130,130,95,86,72,62,46,40,30,22,25,19,16,10,8,6,4,4,3,3,3,3,3,3,3,3],1194,1.364,B,1,'#2a3a96');
bars(1140,10,[2,4,8,15,21,32,38,64,71,76,110,115,136,142,154,140,138,131,115,110,82,71,52,37,32,19,10,10,5,4,3,3,5],1194,1.364,R,0.85,'#c01828');
bars(175,10,[1,1,2,1,2,1,1,4,9,17,23,58,80,100,128,200,209,262,247,256,188,140,136,110,95,80,69,66,64,61,48,44,38,34,29,23,21,17,15,17,15,14,14,7,7,7,7,4,2,2,2,2],1624,1.17,B,1,'#2a3a96');
bars(370,5,[2,4,8,29,50,75,100,140,163,180,167,140,110,94,70,50,32,18,12,8,5,2,2],1624,1.17,'#e81e26',0.95,'none');
bars(955,10,[1,1,1,1,1,4,3,2,5,3,3,9,11,11,9,13,20,23,20,26,38,40,54,54,73,58,76,77,88,100,128,128,135,140,146,160,151,145,166,153,129,111,109,86,82,49,49,39,20,16,10,4],1626,1.73,B,1,'#2a3a96');
bars(1165,7,[1,2,5,8,9,33,50,70,84,75,134,167,196,171,188,165,145,138,136,110,90,69,66,50,40,23,19,14,10,5,8,3,1,1,1,1,1,1,1,1,1,1,1],1626,1.73,R,0.85,'#c01828');

const MT=document.getElementById('mticks');
for(let k=1;k<10;k++){const y=1438-k*45.4;el('line',{x1:1314,y1:y,x2:1322,y2:y},MT);el('line',{x1:1890,y1:y,x2:1898,y2:y},MT);}
[1443,1551,1660,1768].forEach(x=>{el('line',{x1:x,y1:984,x2:x,y2:992},MT);el('line',{x1:x,y1:1430,x2:x,y2:1438},MT);});

const N=document.getElementById('n3d');
const redN=[[0,0.1],[0.1,0.02],[0.2,0],[0.45,0.02],[0.55,0.1],[0.6,0.18],[0.75,0.17],[0.92,0.2],[1,0.3],[0.98,0.55],[0.9,0.65],[0.75,0.82],[0.6,0.97],[0.45,1],[0.25,0.95],[0.15,0.75],[0.08,0.5],[0.03,0.3]];
function blobPath(cx,cy,rx,ry,seed){let s='';const n=22;for(let i=0;i<n;i++){const a=i/n*Math.PI*2;const r=1+0.07*Math.sin(a*5+seed)+0.04*Math.cos(a*9+seed*2);s+=(i?'L':'M')+(cx+rx*r*Math.cos(a)).toFixed(1)+' '+(cy+ry*r*Math.sin(a)).toFixed(1);}return s+'Z';}
function plot(p){
 const g=el('g',{},N);const {bx,by,bw,bh,dx,dy}=p;const nr=p.rows||7;
 for(let i=0;i<=4;i++){const x=bx+bw*i/4;el('line',{x1:x,y1:by,x2:x,y2:by+bh,stroke:'#c6c6c6','stroke-width':1.5},g);}
 for(let j=0;j<=nr;j++){const y=by+bh*j/nr;el('line',{x1:bx,y1:y,x2:bx+bw,y2:y,stroke:'#c6c6c6','stroke-width':1.5},g);}
 for(let j=0;j<=nr;j++){const y=by+bh*j/nr;el('line',{x1:bx,y1:y,x2:bx-dx,y2:y+dy,stroke:'#cfcfcf','stroke-width':1.2},g);
   if(j<nr){el('line',{x1:bx-dx,y1:y+dy,x2:bx,y2:y+bh/nr,stroke:'#d6d6d6','stroke-width':1},g);
     el('line',{x1:bx-dx,y1:y+dy,x2:bx-dx-4,y2:y+dy,stroke:'#777','stroke-width':2},g);}}
 el('line',{x1:bx-dx,y1:by+dy,x2:bx-dx,y2:by+bh+dy,stroke:'#c6c6c6','stroke-width':1.5},g);
 el('line',{x1:bx-3,y1:by-p.zt,x2:bx-3,y2:by+bh+p.zt*0.5,stroke:'#7a7a7a','stroke-width':2.2},g);
 el('path',{d:`M${bx-16} ${by-p.zt+10} L${bx-3} ${by-p.zt} L${bx+14} ${by-p.zt+8}`,stroke:'#7a7a7a','stroke-width':2.2,fill:'none'},g);
 el('path',{d:`M${bx-3} ${by+bh+p.zt*0.5} L${bx-16} ${by+bh+p.zt*0.5+12} M${bx-22} ${by+bh+p.zt*0.5+4} L${bx-16} ${by+bh+p.zt*0.5+12} L${bx-4} ${by+bh+p.zt*0.5+14}`,stroke:'#7a7a7a','stroke-width':2,fill:'none'},g);
 for(let i=0;i<=4;i++){const x=bx+bw*i/4;el('rect',{x:x-8,y:by+bh+6,width:16,height:4,fill:'#999'},g);}
 el('path',{d:blobPath(p.b[0],p.b[1],p.b[2],p.b[3],p.seed||1),fill:'#fff',filter:'url(#mBlueD)'},g);
 const [x0,y0,x1,y1]=p.r;let d='';redN.forEach((q,i)=>{d+=(i?'L':'M')+(x0+q[0]*(x1-x0)).toFixed(1)+' '+(y0+q[1]*(y1-y0)).toFixed(1);});d+='Z';
 el('path',{d:d,fill:'none',stroke:'#2a70d8','stroke-width':p.rim+3},g);
 el('path',{d:d,fill:'none',stroke:'#e0e040','stroke-width':p.rim},g);
 el('path',{d:d,fill:'#fff',filter:'url(#mRed3)'},g);
 const [ax0,ax1,ay]=p.y;
 el('line',{x1:ax0,y1:ay,x2:ax1,y2:ay,stroke:'#777','stroke-width':p.aw},g);
 el('path',{d:`M${ax1-8} ${ay-p.ah} L${ax1} ${ay} L${ax1-8} ${ay+p.ah}`,stroke:'#777','stroke-width':p.aw,fill:'none'},g);
}
plot({bx:2415,by:1129,bw:248,bh:314,dx:35,dy:20,zt:26,rows:8,b:[2480,1283,45,42],r:[2535,1205,2655,1368],y:[2437,2705,1296],aw:3,ah:12,rim:6,seed:1});
plot({bx:2442,by:874,bw:166,bh:214,dx:26,dy:12,zt:18,b:[2486,980,26,22],r:[2525,934,2593,1039],y:[2457,2631,977],aw:2.5,ah:9,rim:4,seed:2});
plot({bx:2131,by:1170,bw:186,bh:243,dx:28,dy:12,zt:18,b:[2178,1276,29,22],r:[2226,1242,2306,1333],y:[2147,2336,1307],aw:2.5,ah:9,rim:4,seed:3});
plot({bx:2767,by:1145,bw:197,bh:251,dx:26,dy:12,zt:18,b:[2809,1279,32,20],r:[2858,1236,2926,1296],y:[2782,2979,1265],aw:2.5,ah:9,rim:4,seed:4});
plot({bx:2468,by:1481,bw:159,bh:208,dx:24,dy:10,zt:16,b:[2502,1587,26,23],r:[2540,1538,2620,1635],y:[2480,2654,1587],aw:2.5,ah:9,rim:4,seed:5});
const A=document.getElementById('arrows');A.parentNode.appendChild(A);
})();
</script>
</body></html>
